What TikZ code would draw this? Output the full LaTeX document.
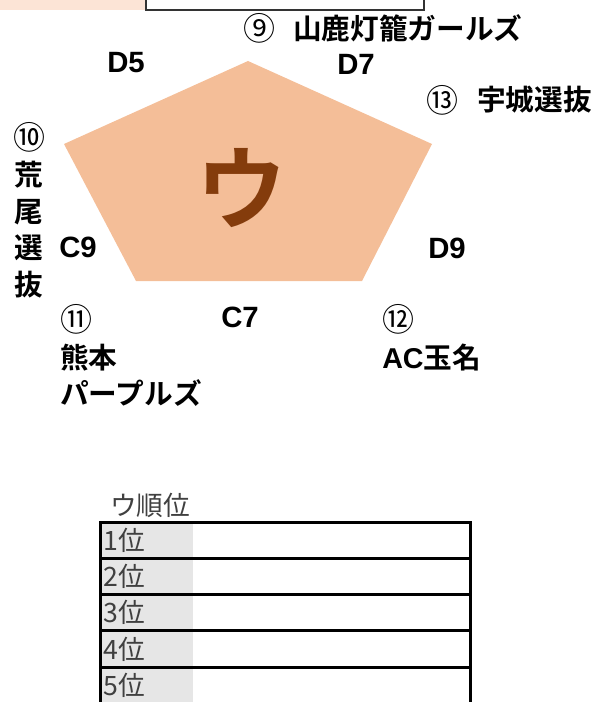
\documentclass[tikz,border=0pt]{standalone}
\usepackage{fontspec}
\newfontfamily\jpr{Noto Sans CJK JP}
\newfontfamily\jpb{Noto Sans CJK JP Bold}
\newfontfamily\latb{Liberation Sans Bold}
\definecolor{pentfill}{HTML}{F4BE98}
\definecolor{toppink}{HTML}{FCE4D6}
\definecolor{kanabrown}{HTML}{843C0C}
\definecolor{cellgray}{HTML}{E6E6E6}
\tikzset{
  lbl/.style={font=\jpb\fontsize{21.5}{27.4}\selectfont, inner sep=0pt},
  latlbl/.style={font=\latb\fontsize{22}{27.4}\selectfont, inner sep=0pt},
  num/.style={font=\jpr\fontsize{24}{27.4}\selectfont, inner sep=0pt},
  rank/.style={font=\jpr\fontsize{20}{24}\selectfont, text=black!75, inner sep=0pt, anchor=west},
  rowbox/.style={draw=black, line width=2.25pt}
}
\begin{document}
\begin{tikzpicture}[x=0.75pt,y=-0.75pt]
\useasboundingbox (0,0) rectangle (591,702);
% top strip
\fill[toppink] (0,0) rectangle (146,10);
\draw[line width=0.9pt, black!80] (146,0) -- (146,10) -- (424,10) -- (424,0);
% pentagon
\coordinate (p1) at (248,61);
\coordinate (p2) at (432,144);
\coordinate (p3) at (362,281);
\coordinate (p4) at (136,281);
\coordinate (p5) at (64,144);
\fill[pentfill] (p1) -- (p2) -- (p3) -- (p4) -- (p5) -- cycle;
\node[font=\jpb\fontsize{68}{68}\selectfont, text=kanabrown, inner sep=0pt] (kana) at (242,188) {ウ};
% teams
\node[num] (n9) at (259,28) {⑨};
\node[lbl,anchor=west] (yamaga) at (293,28) {山鹿灯籠ガールズ};
\node[num] (n13) at (442,100) {⑬};
\node[lbl,anchor=west] (uki) at (477,100) {宇城選抜};
\node[lbl,align=center] (arao) at (29,210) {{\jpr\fontsize{24}{27.4}\selectfont ⑩}\\荒\\尾\\選\\抜};
\node[lbl,align=left,anchor=west] (kuma) at (60,355.5) {{\jpr\fontsize{24}{27.4}\selectfont ⑪}\\熊本\\パープルズ};
\node[lbl,align=left,anchor=west] (tama) at (382,338) {{\jpr\fontsize{24}{27.4}\selectfont ⑫}\\{\latb AC}玉名};
% courts
\node[latlbl] (d5) at (126,63) {D5};
\node[latlbl] (d7) at (356,64) {D7};
\node[latlbl] (d9) at (447,248) {D9};
\node[latlbl] (c9) at (78,247) {C9};
\node[latlbl] (c7) at (240,317) {C7};
% ranking table
\node[rank] (title) at (110,505) {ウ順位};
\fill[cellgray] (100,522) rectangle (193,558.3);
\fill[cellgray] (100,558.3) rectangle (193,594.6);
\fill[cellgray] (100,594.6) rectangle (193,630.9);
\fill[cellgray] (100,630.9) rectangle (193,667.2);
\fill[cellgray] (100,667.2) rectangle (193,703.5);
\draw[rowbox] (100,522) rectangle (470,558.3);
\draw[rowbox] (100,558.3) rectangle (470,594.6);
\draw[rowbox] (100,594.6) rectangle (470,630.9);
\draw[rowbox] (100,630.9) rectangle (470,667.2);
\draw[rowbox] (100,667.2) rectangle (470,703.5);
\node[rank] (r1) at (103,540) {1位};
\node[rank] (r2) at (103,576.5) {2位};
\node[rank] (r3) at (103,612.8) {3位};
\node[rank] (r4) at (103,649) {4位};
\node[rank] (r5) at (103,685.4) {5位};
\end{tikzpicture}
\end{document}
